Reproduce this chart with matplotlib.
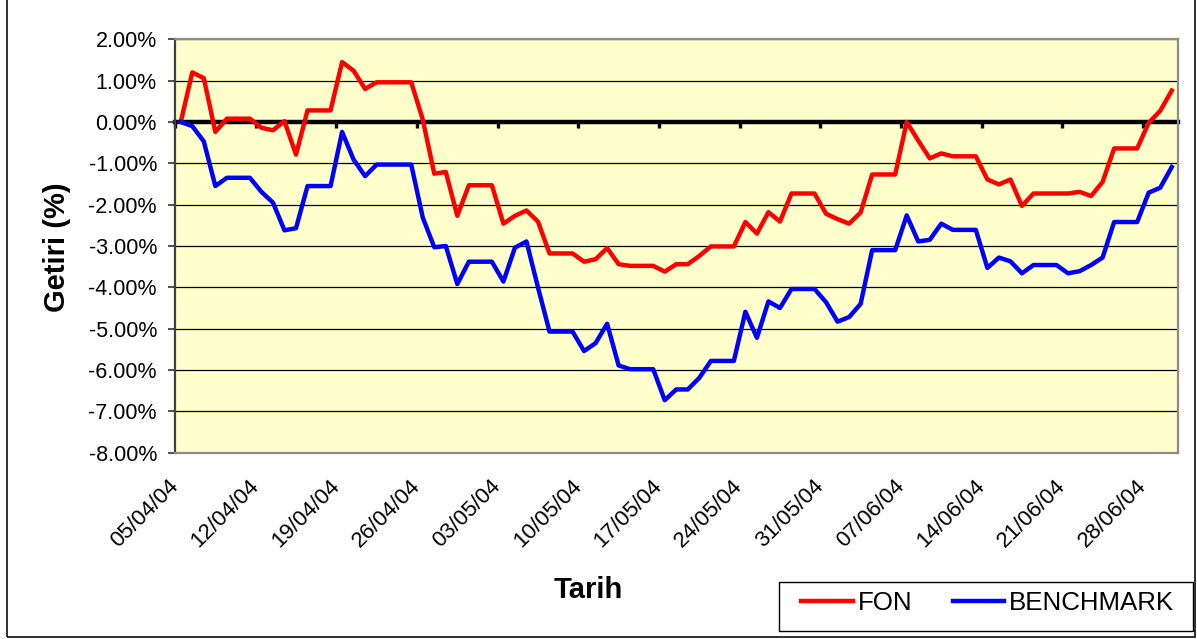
import matplotlib

matplotlib.use("Agg")

import matplotlib.dates as mdates  # noqa: E402
import matplotlib.pyplot as plt  # noqa: E402
import pandas as pd  # noqa: E402
from matplotlib.patches import Rectangle  # noqa: E402
from matplotlib.ticker import FuncFormatter, MultipleLocator  # noqa: E402

plt.rcParams["font.family"] = ["Liberation Sans", "DejaVu Sans"]

# Daily returns (%) from 05/04/04 to 30/06/04, weekends carry Friday's value.
dates = pd.date_range("2004-04-05", "2004-06-30", freq="D")
fon = [
    0.00, 1.20, 1.06, -0.24, 0.08, 0.08, 0.08,
    -0.14, -0.20, 0.02, -0.79, 0.28, 0.28, 0.28,
    1.45, 1.24, 0.80, 0.96, 0.96, 0.96, 0.96,
    0.06, -1.25, -1.21, -2.27, -1.53, -1.53, -1.53,
    -2.46, -2.27, -2.14, -2.41, -3.18, -3.18, -3.18,
    -3.38, -3.32, -3.05, -3.44, -3.48, -3.48, -3.48,
    -3.62, -3.44, -3.44, -3.24, -3.01, -3.01, -3.01,
    -2.42, -2.70, -2.18, -2.41, -1.73, -1.73, -1.73,
    -2.22, -2.35, -2.46, -2.19, -1.27, -1.27, -1.27,
    0.00, -0.45, -0.88, -0.76, -0.83, -0.83, -0.83,
    -1.39, -1.51, -1.39, -2.03, -1.73, -1.73, -1.73,
    -1.73, -1.69, -1.79, -1.45, -0.64, -0.64, -0.64,
    -0.02, 0.27, 0.76,
]
benchmark = [
    0.00, -0.10, -0.47, -1.55, -1.35, -1.35, -1.35,
    -1.69, -1.95, -2.62, -2.57, -1.55, -1.55, -1.55,
    -0.24, -0.91, -1.31, -1.03, -1.03, -1.03, -1.03,
    -2.31, -3.03, -3.00, -3.92, -3.38, -3.38, -3.38,
    -3.86, -3.04, -2.89, -4.00, -5.07, -5.07, -5.07,
    -5.54, -5.35, -4.88, -5.89, -5.98, -5.98, -5.98,
    -6.73, -6.47, -6.47, -6.19, -5.78, -5.78, -5.78,
    -4.59, -5.22, -4.34, -4.50, -4.04, -4.04, -4.04,
    -4.36, -4.83, -4.72, -4.40, -3.10, -3.10, -3.10,
    -2.26, -2.89, -2.85, -2.46, -2.61, -2.61, -2.61,
    -3.53, -3.28, -3.37, -3.66, -3.46, -3.46, -3.46,
    -3.66, -3.61, -3.46, -3.28, -2.42, -2.42, -2.42,
    -1.71, -1.59, -1.09,
]
tick_dates = pd.date_range("2004-04-05", "2004-06-28", freq="7D")

W, H = 1197, 639
fig = plt.figure(figsize=(W / 100, H / 100), dpi=100)
ax = fig.add_axes([175 / W, 1 - 452.7 / H, 1002.5 / W, 413.4 / H])
ax.set_facecolor("#FFFFCC")

# Excel date axis: each point sits in the middle of its day slot.
xs = dates + pd.Timedelta(hours=12)
ax.plot(xs, fon, color="#FF0000", lw=3.2, label="FON", zorder=4)
ax.plot(xs, benchmark, color="#0000FF", lw=3.2, label="BENCHMARK", zorder=4)

ax.set_xlim(dates[0], dates[-1] + pd.Timedelta(days=1))
ax.set_ylim(-8, 2)
ax.yaxis.set_major_locator(MultipleLocator(1))
ax.yaxis.set_major_formatter(FuncFormatter(lambda v, _: f"{v:.2f}%"))
ax.grid(True, axis="y", color="#000000", lw=0.9)
ax.set_axisbelow(True)

ax.set_xticks(tick_dates)
ax.xaxis.set_major_formatter(mdates.DateFormatter("%d/%m/%y"))
ax.tick_params(axis="x", length=0, pad=22, labelsize=16)
plt.setp(ax.get_xticklabels(), rotation=45, ha="right", va="center",
         rotation_mode="anchor")
ax.tick_params(axis="y", length=5, width=1.2, pad=8, labelsize=15.5,
               color="#333333")

for side in ("top", "right", "bottom"):
    ax.spines[side].set_color("#8C8C8C")
    ax.spines[side].set_linewidth(1.6)
ax.spines["left"].set_color("#404040")
ax.spines["left"].set_linewidth(1.6)

# The category axis crosses at zero: heavy black line with weekly ticks.
zero = ax.secondary_xaxis(0.8)
zero.set_xticks(tick_dates)
zero.tick_params(axis="x", direction="in", length=4, width=2.4,
                 labeltop=False, labelbottom=False, color="black")
for sp in zero.spines.values():
    sp.set_color("black")
    sp.set_linewidth(3.2)

fig.text(588 / W, 1 - 590 / H, "Tarih", ha="center", va="center",
         fontsize=21, fontweight="bold")
fig.text(57 / W, 1 - 247 / H, "Getiri (%)", ha="center", va="center",
         rotation=90, fontsize=21, fontweight="bold")

# Legend entries without their own frame; the box is drawn separately.
leg = ax.legend(loc="center left", bbox_to_anchor=(801 / W, 1 - 603 / H),
                bbox_transform=fig.transFigure, ncol=2, borderaxespad=0,
                borderpad=0, fontsize=18.6, handlelength=2.0,
                handletextpad=0.2, columnspacing=1.55, frameon=False)
for line in leg.get_lines():
    line.set_linewidth(3.2)
fig.patches.append(Rectangle((779 / W, 1 - 631 / H), 414 / W, 49 / H,
                             transform=fig.transFigure, facecolor="white",
                             edgecolor="black", lw=1.0, zorder=-1))

# Outer chart frame (top edge lies outside the picture).
fig.patches.append(Rectangle((7 / W, 1 - 636.5 / H), 1188 / W, 1.2,
                             transform=fig.transFigure, fill=False,
                             edgecolor="#202020", lw=1.3, zorder=-1))

fig.savefig("out.png", dpi=100)
